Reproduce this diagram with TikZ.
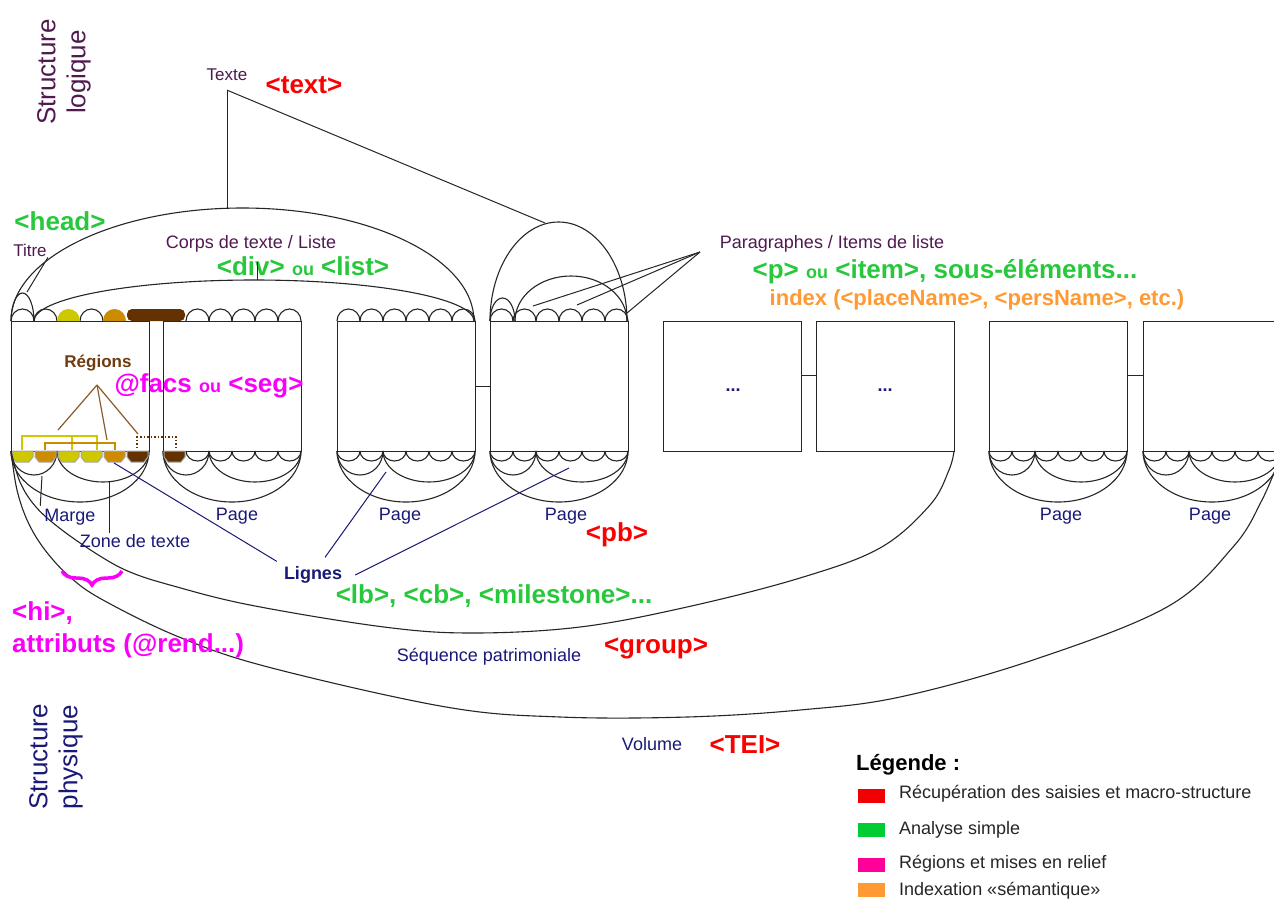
\documentclass[tikz,border=0pt]{standalone}
\usepackage{fontspec}
\setmainfont{Liberation Sans}
\usetikzlibrary{decorations.pathreplacing}
\definecolor{purp}{RGB}{80,25,80}
\definecolor{navy}{RGB}{25,25,120}
\definecolor{tred}{RGB}{250,0,0}
\definecolor{tgreen}{RGB}{40,200,60}
\definecolor{tmag}{RGB}{250,0,250}
\definecolor{torange}{RGB}{255,153,51}
\definecolor{brn}{RGB}{110,60,15}
\definecolor{brnline}{RGB}{140,90,40}
\definecolor{yel}{RGB}{205,200,0}
\definecolor{org}{RGB}{205,140,0}
\definecolor{dbrn}{RGB}{100,50,0}
\definecolor{lred}{RGB}{240,0,0}
\definecolor{lgreen}{RGB}{0,204,51}
\definecolor{lmag}{RGB}{255,0,153}
\definecolor{lorange}{RGB}{255,153,51}
\tikzset{
  ln/.style={draw=black!85, line width=1.1pt},
  pg/.style={draw=black!85, line width=1.1pt, minimum width=138pt, minimum height=130pt, inner sep=0pt, anchor=north west},
  lbl/.style={inner sep=1pt, font=\fontsize{18}{20}\selectfont},
  nv/.style={lbl, text=navy},
  pu/.style={lbl, text=purp},
  sm/.style={font=\fontsize{17}{19}\selectfont},
  tag/.style={inner sep=1pt, font=\bfseries\fontsize{26}{28}\selectfont},
  nvline/.style={draw=navy, line width=1pt},
  brline/.style={draw=brnline, line width=1.2pt},
  swatch/.style={inner sep=0pt, minimum width=27pt, minimum height=14pt},
}
\newcommand\TopScal[2]{\foreach \k in {#2}{\draw[ln] ({#1+23*\k},-321) arc[start angle=180,end angle=0,x radius=11.5pt,y radius=12pt];}}
\newcommand\BotScal[2]{\foreach \k in {#2}{\draw[ln] ({#1+23*\k},-451) arc[start angle=180,end angle=360,x radius=11.5pt,y radius=10pt];}}
\newcommand\BotArcs[1]{%
  \draw[ln] (#1,-451) arc[start angle=180,end angle=360,x radius=23pt,y radius=24pt];
  \draw[ln] ({#1+46},-451) arc[start angle=180,end angle=360,x radius=46pt,y radius=31pt];
  \draw[ln] (#1,-451) arc[start angle=180,end angle=360,x radius=69pt,y radius=51pt];}
\newcommand\ColScal[2]{\filldraw[fill=#2, draw=black!35, line width=1pt] ({#1+1},-451) -- ({#1+1},-457) -- ({#1+5},-462) -- ({#1+18},-462) -- ({#1+22},-457) -- ({#1+22},-451) -- cycle;}
\begin{document}
\begin{tikzpicture}[x=1pt,y=1pt]
\useasboundingbox (0,0) rectangle (1274,-900);
\fill[white] (0,0) rectangle (1274,-900);

% ---------- pages ----------
\foreach \n/\px in {1/11,2/163,3/337,4/490,5/663,6/816,7/989,8/1143}{\node[pg] (p\n) at (\px,-321) {};}
\draw[ln] (p3.east) -- (p4.west);
\draw[ln] ([yshift=11pt]p5.east) -- ([yshift=11pt]p6.west);
\draw[ln] ([yshift=11pt]p7.east) -- ([yshift=11pt]p8.west);

% ---------- top scallops ----------
\TopScal{11}{0,1,3}
\fill[yel] (57,-321) arc[start angle=180,end angle=0,x radius=11.5pt,y radius=12pt] -- cycle;
\fill[org] (103,-321) arc[start angle=180,end angle=0,x radius=11.5pt,y radius=12pt] -- cycle;
\fill[dbrn, rounded corners=5pt] (127,-321) -- (127,-309) -- (185,-309) -- (185,-321) -- cycle;
\TopScal{163}{1,...,5}
\TopScal{337}{0,...,5}
\TopScal{490}{0,...,5}

% ---------- top arcs ----------
\draw[ln] (11,-321) arc[start angle=180,end angle=0,x radius=231.5pt,y radius=113pt];
\draw[ln] (34,-321) arc[start angle=180,end angle=0,x radius=220pt,y radius=41pt];
\draw[ln] (11,-321) arc[start angle=180,end angle=0,x radius=11.5pt,y radius=28pt];
\draw[ln] (490,-321) arc[start angle=180,end angle=0,x radius=68.5pt,y radius=99pt];
\draw[ln] (515,-321) arc[start angle=180,end angle=0,x radius=56pt,y radius=45pt];
\draw[ln] (490,-321) arc[start angle=180,end angle=0,x radius=12.5pt,y radius=23pt];

% ---------- bottom scallops and arcs ----------
\BotArcs{11}\BotArcs{163}\BotArcs{337}\BotArcs{490}\BotArcs{989}\BotArcs{1143}
\BotScal{163}{1,...,5}
\BotScal{337}{0,...,5}
\BotScal{490}{0,...,5}
\BotScal{989}{0,...,5}
\BotScal{1143}{0,...,5}
\ColScal{11}{yel}\ColScal{34}{org}\ColScal{57}{yel}\ColScal{80}{yel}\ColScal{103}{org}\ColScal{126}{dbrn}
\ColScal{163}{dbrn}

% region brackets
\draw[yel, line width=2pt] (22,-450) -- (22,-436) -- (97,-436) -- (97,-450);
\draw[yel, line width=2pt] (72,-436) -- (72,-450);
\draw[org, line width=2pt] (45,-450) -- (45,-443) -- (115,-443) -- (115,-450);
\draw[dbrn, line width=1.5pt, dotted] (137,-448) -- (137,-437) -- (176,-437) -- (176,-448);

% ---------- sequence and volume arcs ----------
\draw[ln] plot[smooth, tension=0.6] coordinates {(11,-451) (20,-482) (36,-507) (62,-530) (100,-556) (130,-572) (170,-585) (250,-605) (384,-627) (473,-633) (580,-627) (687,-607) (800,-578) (880,-548) (930,-505) (949,-470) (954,-451)};
\draw[ln] plot[smooth, tension=0.6] coordinates {(11,-451) (17,-490) (28,-522) (45,-550) (70,-577) (103,-600) (179,-637) (268,-667) (446,-707) (560,-717) (687,-717) (800,-710) (900,-697) (1033,-660) (1167,-607) (1233,-547) (1262,-500) (1281,-455)};

% ---------- texts ----------
\node[pu, rotate=90, align=center, font=\fontsize{26}{30}\selectfont] (slog) at (64,-72) {Structure\\logique};
\node[nv, rotate=90, align=center, font=\fontsize{26}{30}\selectfont] (sphy) at (56,-757) {Structure\\physique};

\node[pu, sm] (texte) at (227,-75) {Texte};
\node[tag, text=tred] (ttext) at (304,-85) {<text>};
\node[tag, text=tgreen] (thead) at (60,-221) {<head>};
\node[pu, sm] (titre) at (30,-250) {Titre};
\node[pu] (corps) at (251,-244) {Corps de texte / Liste};
\node[tag, text=tgreen] (tdiv) at (303,-266) {<div> {\fontsize{18}{20}\selectfont ou} <list>};
\node[pu] (para) at (832,-244) {Paragraphes / Items de liste};
\node[tag, text=tgreen] (tp) at (945,-272) {<p> {\fontsize{18}{20}\selectfont ou} <item>, sous-éléments...};
\node[tag, text=torange, font=\bfseries\fontsize{22}{24}\selectfont] (tindex) at (977,-300) {index (<placeName>, <persName>, etc.)};
\node[lbl, text=brn, font=\bfseries\fontsize{17}{19}\selectfont] (regions) at (98,-363) {Régions};
\node[tag, text=tmag] (tfacs) at (209,-386) {@facs {\fontsize{18}{20}\selectfont ou} <seg>};
\node[nv, font=\bfseries\fontsize{18}{20}\selectfont] (dots5) at (733,-390) {...};
\node[nv, font=\bfseries\fontsize{18}{20}\selectfont] (dots6) at (885,-390) {...};

\node[nv] (marge) at (70,-517) {Marge};
\node[nv] (zone) at (135,-541) {Zone de texte};
\node[nv] (pg2) at (237,-516) {Page};
\node[nv] (pg3) at (400,-516) {Page};
\node[nv] (pg4) at (566,-516) {Page};
\node[nv] (pg7) at (1061,-516) {Page};
\node[nv] (pg8) at (1210,-516) {Page};
\node[tag, text=tred] (tpb) at (617,-535) {<pb>};
\node[nv, font=\bfseries\fontsize{18}{20}\selectfont] (lignes) at (313,-575) {Lignes};
\node[tag, text=tgreen] (tlb) at (494,-596) {<lb>, <cb>, <milestone>...};
\node[nv] (seq) at (489,-657) {Séquence patrimoniale};
\node[tag, text=tred] (tgroup) at (656,-648) {<group>};
\node[nv] (vol) at (652,-744) {Volume};
\node[tag, text=tred] (ttei) at (745,-745) {<TEI>};
\node[tag, text=tmag, anchor=west] (thi) at (11,-613) {<hi>,};
\node[tag, text=tmag, anchor=west] (tattr) at (11,-646) {attributs (@rend...)};
\draw[tmag, line width=3.5pt, decorate, decoration={brace, amplitude=14pt}] (122,-571) -- (62,-571);

% ---------- connectors ----------
\coordinate (tJ) at ([yshift=-8pt]texte.south);
\coordinate (tArc) at (227,-208);
\coordinate (pArc) at (545,-223);
\draw[ln, line width=1pt] (tJ) -- (tArc);
\draw[ln, line width=1pt] (tJ) -- (pArc);
\coordinate (tiArc) at (27,-292);
\draw[ln, line width=1pt] (titre.south east) -- (tiArc);
\coordinate (cJ) at (257,-262);
\coordinate (cArc) at (257,-280);
\draw[ln, line width=1pt] (cJ) -- (cArc);
\coordinate (paJ) at (700,-252);
\coordinate (pa1) at (533,-306);
\coordinate (pa2) at (577,-305);
\coordinate (pa3) at (627,-313);
\draw[ln, line width=1pt] (paJ) -- (pa1);
\draw[ln, line width=1pt] (paJ) -- (pa2);
\draw[ln, line width=1pt] (paJ) -- (pa3);
\coordinate (rJ) at (97,-385);
\coordinate (r1) at (58,-430);
\coordinate (r2) at (107,-440);
\coordinate (r3) at (138,-434);
\draw[brline] (rJ) -- (r1);
\draw[brline] (rJ) -- (r2);
\draw[brline] (rJ) -- (r3);
\coordinate (l1) at (114,-463);
\coordinate (l2) at (386,-472);
\coordinate (l3) at (569,-468);
\draw[nvline] ([shift={(-6pt,4pt)}]lignes.north west) -- (l1);
\draw[nvline] ([shift={(12pt,8pt)}]lignes.north) -- (l2);
\draw[nvline] ([shift={(12pt,0pt)}]lignes.east) -- (l3);
\coordinate (mArc) at (42,-476);
\draw[ln, line width=1pt] (marge.north west) ++(-3pt,2pt) -- (mArc);
\coordinate (zArc) at (109,-481);
\draw[ln, line width=1pt] ([xshift=-26pt]zone.north) -- (zArc);

% ---------- legend ----------
\node[lbl, anchor=west, font=\bfseries\fontsize{22}{24}\selectfont] (leg) at (855,-765) {Légende :};
\node[swatch, fill=lred] (s1) at (871.5,-795.5) {};
\node[swatch, fill=lgreen] (s2) at (871.5,-830) {};
\node[swatch, fill=lmag] (s3) at (871.5,-864.5) {};
\node[swatch, fill=lorange] (s4) at (871.5,-890) {};
\node[lbl, anchor=west, text=black!85] (e1) at (898,-794) {Récupération des saisies et macro-structure};
\node[lbl, anchor=west, text=black!85] (e2) at (898,-830) {Analyse simple};
\node[lbl, anchor=west, text=black!85] (e3) at (898,-864) {Régions et mises en relief};
\node[lbl, anchor=west, text=black!85] (e4) at (898,-891) {Indexation «sémantique»};
\end{tikzpicture}
\end{document}
